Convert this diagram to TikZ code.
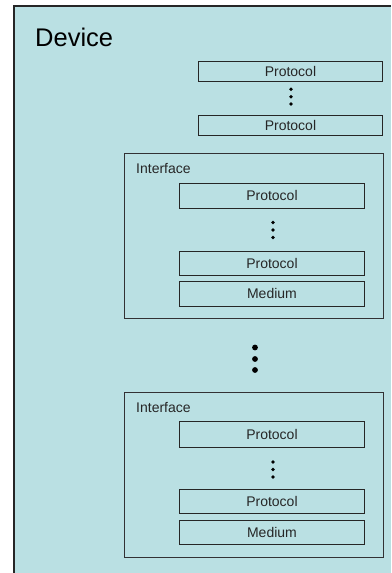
\documentclass[tikz,border=0pt]{standalone}
\usepackage{fontspec}
\setmainfont{Liberation Sans}
\begin{document}
\begin{tikzpicture}[x=1pt,y=-1pt,
  txt/.style={font=\fontsize{14}{16}\selectfont, text=black!85},
  layer/.style={draw=black!85, line width=0.9pt, inner sep=0pt, anchor=north west, txt},
  iface/.style={draw=black!70!cyan!30!black, line width=1.2pt, inner sep=0pt, anchor=north west},
  dot/.style={fill=black, draw=none, circle, inner sep=0pt, minimum size=#1},
  dot/.default=3.8pt]
\definecolor{devfill}{RGB}{186,224,227}
\useasboundingbox (0,0) rectangle (391,573);

% device container, running off the right and bottom edges
\fill[devfill] (14,6) rectangle (391,573);
\draw[black!85, line width=1.2pt] (391,6) -- (14,6) -- (14,573);
\node[anchor=base west, inner sep=0pt, font=\fontsize{25.5}{28}\selectfont] (device) at (35,46) {Device};

% protocols directly on the device
\node[layer, minimum width=184pt, minimum height=20pt] (dp1) at (198,61) {Protocol};
\node[dot] (dd1) at (291,89.3) {};
\node[dot] (dd2) at (291,96.7) {};
\node[dot] (dd3) at (291,104) {};
\node[layer, minimum width=184pt, minimum height=20pt] (dp2) at (198,115) {Protocol};

% first interface
\node[iface, minimum width=259pt, minimum height=165pt] (if1) at (124,153) {};
\node[anchor=base west, inner sep=0pt, txt] (if1label) at (136,173) {Interface};
\node[layer, minimum width=185pt, minimum height=25pt] (if1p1) at (179,183) {Protocol};
\node[dot] (if1d1) at (273,222.5) {};
\node[dot] (if1d2) at (273,230) {};
\node[dot] (if1d3) at (273,237.5) {};
\node[layer, minimum width=185pt, minimum height=24pt] (if1p2) at (179,251) {Protocol};
\node[layer, minimum width=185pt, minimum height=25pt] (if1m) at (179,281) {Medium};

% more interfaces in between
\node[dot=5.8pt] (bd1) at (255,347.5) {};
\node[dot=5.8pt] (bd2) at (255,359) {};
\node[dot=5.8pt] (bd3) at (255,370) {};

% last interface
\node[iface, minimum width=259pt, minimum height=165pt] (if2) at (124,392) {};
\node[anchor=base west, inner sep=0pt, txt] (if2label) at (136,412) {Interface};
\node[layer, minimum width=185pt, minimum height=26pt] (if2p1) at (179,421) {Protocol};
\node[dot] (if2d1) at (273,462) {};
\node[dot] (if2d2) at (273,469.5) {};
\node[dot] (if2d3) at (273,477) {};
\node[layer, minimum width=185pt, minimum height=24pt] (if2p2) at (179,489) {Protocol};
\node[layer, minimum width=185pt, minimum height=24pt] (if2m) at (179,520) {Medium};
\end{tikzpicture}
\end{document}
